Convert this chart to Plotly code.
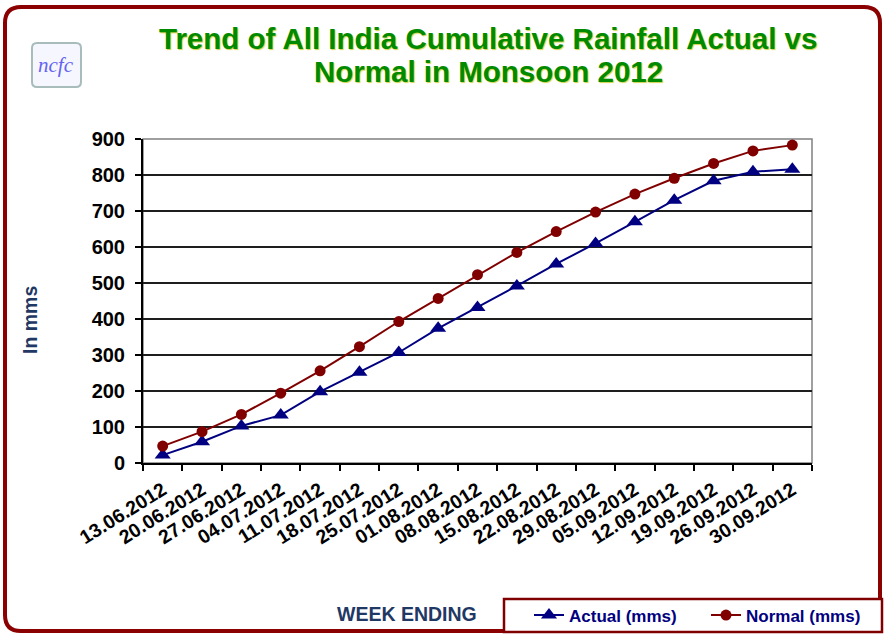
import plotly.graph_objects as go

categories = ["13.06.2012", "20.06.2012", "27.06.2012", "04.07.2012", "11.07.2012",
              "18.07.2012", "25.07.2012", "01.08.2012", "08.08.2012", "15.08.2012",
              "22.08.2012", "29.08.2012", "05.09.2012", "12.09.2012", "19.09.2012",
              "26.09.2012", "30.09.2012"]
actual = [22, 59, 103, 133, 198, 252, 307, 374, 432, 492, 553, 610, 670, 730, 784, 809, 816]
normal = [47, 87, 135, 194, 256, 323, 393, 457, 523, 585, 643, 697, 747, 791, 832, 867, 883]
y_ticks = [0, 100, 200, 300, 400, 500, 600, 700, 800, 900]

WIDTH, HEIGHT = 886, 634
L, R, T, B = 143, 74, 139, 171
PW = WIDTH - L - R
PH = HEIGHT - T - B


def X(px):
    return (px - L) / PW


def Y(py):
    return (T + PH - py) / PH


def rounded_rect(x0, y0, x1, y1, r):
    return (f"M {X(x0 + r)} {Y(y0)} L {X(x1 - r)} {Y(y0)} Q {X(x1)} {Y(y0)} {X(x1)} {Y(y0 + r)} "
            f"L {X(x1)} {Y(y1 - r)} Q {X(x1)} {Y(y1)} {X(x1 - r)} {Y(y1)} "
            f"L {X(x0 + r)} {Y(y1)} Q {X(x0)} {Y(y1)} {X(x0)} {Y(y1 - r)} "
            f"L {X(x0)} {Y(y0 + r)} Q {X(x0)} {Y(y0)} {X(x0 + r)} {Y(y0)} Z")


fig = go.Figure()
fig.add_trace(go.Scatter(
    x=categories, y=actual, name="Actual (mms)", mode="lines+markers",
    line=dict(color="#000080", width=2),
    marker=dict(symbol="triangle-up", size=14, color="#000080"),
))
fig.add_trace(go.Scatter(
    x=categories, y=normal, name="Normal (mms)", mode="lines+markers",
    line=dict(color="#800000", width=2),
    marker=dict(symbol="circle", size=11, color="#800000"),
))

title_font = dict(family="Liberation Sans, Arial, sans-serif", size=29.5, color="#008a00",
                  weight="bold", shadow="1px 1px 1px rgba(190,190,0,0.7)")

annotations = [
    dict(text="Trend of All India Cumulative Rainfall Actual vs", x=X(488), y=Y(39),
         xref="paper", yref="paper", showarrow=False, xanchor="center", yanchor="middle",
         font=title_font),
    dict(text="Normal in Monsoon 2012", x=X(488), y=Y(72),
         xref="paper", yref="paper", showarrow=False, xanchor="center", yanchor="middle",
         font=title_font),
    dict(text="In mms", x=X(30), y=Y(320), xref="paper", yref="paper", showarrow=False,
         textangle=-90, xanchor="center", yanchor="middle",
         font=dict(family="Liberation Sans, Arial, sans-serif", size=19.5, color="#1F3864",
                   weight="bold")),
    dict(text="WEEK ENDING", x=X(407), y=Y(614), xref="paper", yref="paper", showarrow=False,
         xanchor="center", yanchor="middle",
         font=dict(family="Liberation Sans, Arial, sans-serif", size=19.5, color="#1F3864",
                   weight="bold")),
    dict(text="<i>ncfc</i>", x=X(56), y=Y(65), xref="paper", yref="paper", showarrow=False,
         xanchor="center", yanchor="middle",
         font=dict(family="Liberation Serif, Times New Roman, serif", size=21, color="#6464f0")),
]

shapes = [
    dict(type="path", xref="paper", yref="paper", path=rounded_rect(5, 7, 880, 631, 16),
         line=dict(color="#8B0000", width=4), layer="below"),
    dict(type="path", xref="paper", yref="paper", path=rounded_rect(32, 43, 81, 87, 5),
         line=dict(color="#a8bcbc", width=2), fillcolor="#f6f6ff", layer="below"),
    # plot-area frame (top/right)
    dict(type="rect", xref="paper", yref="paper", x0=0, y0=0, x1=1, y1=1,
         line=dict(color="#808080", width=1.5), layer="below"),
    # legend box
    dict(type="rect", xref="paper", yref="paper", x0=X(504), x1=X(882), y0=Y(632), y1=Y(599),
         line=dict(color="#800000", width=2.5), fillcolor="white", layer="above"),
]

fig.update_layout(
    width=WIDTH, height=HEIGHT,
    margin=dict(l=L, r=R, t=T, b=B, pad=0, autoexpand=False),
    paper_bgcolor="white", plot_bgcolor="white",
    font=dict(family="Liberation Sans, Arial, sans-serif", color="black"),
    showlegend=True,
    legend=dict(
        orientation="h", x=X(529), y=Y(615.5), xanchor="left", yanchor="middle",
        bgcolor="rgba(0,0,0,0)", borderwidth=0,
        font=dict(size=17, color="#000080", weight="bold"),
        entrywidth=132, entrywidthmode="pixels", itemwidth=30,
        tracegroupgap=0,
    ),
    annotations=annotations,
    shapes=shapes,
)

fig.update_xaxes(
    type="category", range=[-0.5, len(categories) - 0.5],
    showline=True, linecolor="black", linewidth=2,
    ticks="outside", tickson="boundaries", ticklen=6, tickcolor="black", tickwidth=1.5,
    tickangle=-32, showgrid=False, automargin=False,
    tickfont=dict(size=19.5, color="black", weight="bold"),
    ticklabelstandoff=6,
)
fig.update_yaxes(
    range=[0, 900], tickvals=y_ticks, ticktext=[str(v) for v in y_ticks],
    showline=True, linecolor="black", linewidth=2,
    ticks="outside", ticklen=6, tickcolor="black", tickwidth=1.5,
    showgrid=True, gridcolor="#1e1e1e", gridwidth=1.5, zeroline=False, automargin=False,
    tickfont=dict(size=20, color="black", weight="bold"),
    ticklabelstandoff=6,
)

fig.write_html("out.html", post_script="document.body.style.margin='0';",
               config={"displayModeBar": False})
